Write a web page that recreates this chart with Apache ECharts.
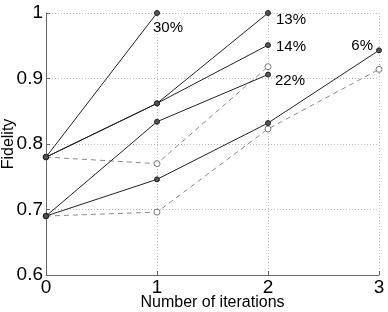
<!DOCTYPE html>
<html>
<head>
<meta charset="utf-8">
<script src="https://cdn.jsdelivr.net/npm/echarts@6/dist/echarts.min.js"></script>
<style>
html,body{margin:0;padding:0;background:#fff;}
#chart{width:388px;height:312px;}
</style>
</head>
<body>
<div id="chart"></div>
<script>
// ---- data ----
const iterations = [0, 1, 2, 3];
const xTickLabels = ['0', '1', '2', '3'];
const yTickLabels = ['0.6', '0.7', '0.8', '0.9', '1'];
const seriesNames = ['30%', '13%', '14%', '22%', '6%'];
const fid30 = [0.780, 1.000];
const fid13 = [0.780, 0.862, 1.000];
const fid14 = [0.780, 0.862, 0.951];
const fid22 = [0.690, 0.834, 0.906];
const fid6  = [0.690, 0.746, 0.832, 0.943];
const dashedUpper = [0.780, 0.770, 0.918];
const dashedLower = [0.690, 0.696, 0.823, 0.914];

// ---- styling / layout ----
const FONT = '"Liberation Sans", Arial, Helvetica, sans-serif';
const labelPlacement = [
  {position: 'right', offset: [-7, 15]},
  {position: 'right', offset: [5, 7]},
  {position: 'right', offset: [5, 2]},
  {position: 'right', offset: [4, 6]},
  {position: 'left',  offset: [-3, -4]}
];
const solidValues = [fid30, fid13, fid14, fid22, fid6];

function pairs(vals) { return vals.map((v, i) => [iterations[i], v]); }

const series = [];
[dashedUpper, dashedLower].forEach((vals, k) => {
  series.push({
    name: 'dashed' + k,
    type: 'line',
    data: pairs(vals),
    symbol: 'circle',
    symbolSize: 6,
    showSymbol: true,
    lineStyle: {color: '#8a8a8a', width: 1, type: [5, 4]},
    itemStyle: {color: '#ffffff', borderColor: '#777', borderWidth: 1},
    z: 2,
    silent: true
  });
});
solidValues.forEach((vals, k) => {
  const d = pairs(vals).map((p, i) => {
    if (i === vals.length - 1) {
      return {
        value: p,
        label: {
          show: true,
          formatter: seriesNames[k],
          position: labelPlacement[k].position,
          offset: labelPlacement[k].offset,
          distance: 0,
          fontSize: 15,
          fontFamily: FONT,
          color: '#000'
        }
      };
    }
    return {value: p};
  });
  series.push({
    name: seriesNames[k],
    type: 'line',
    data: d,
    symbol: 'circle',
    symbolSize: 5,
    showSymbol: true,
    lineStyle: {color: '#222', width: 1},
    itemStyle: {color: '#555', borderColor: '#222', borderWidth: 1},
    z: 3,
    silent: true
  });
});

const chart = echarts.init(document.getElementById('chart'), null, {renderer: 'canvas'});
chart.setOption({
  animation: false,
  backgroundColor: '#fff',
  grid: {left: 46, right: 9, top: 13, bottom: 37, containLabel: false, outerBoundsMode: 'none'},
  xAxis: {
    type: 'value',
    min: iterations[0],
    max: iterations[iterations.length - 1],
    interval: 1,
    name: 'Number of iterations',
    nameLocation: 'middle',
    nameGap: 20,
    nameMoveOverlap: false,
    nameTextStyle: {fontSize: 16, fontFamily: FONT, color: '#000'},
    axisLine: {show: true, lineStyle: {color: '#666', width: 1}},
    axisTick: {show: true, inside: true, length: 4, lineStyle: {color: '#666'}},
    axisLabel: {
      fontSize: 19, fontFamily: FONT, color: '#000', margin: 3,
      formatter: (v) => xTickLabels[iterations.indexOf(v)] ?? ''
    },
    splitLine: {show: true, lineStyle: {color: '#bbb', type: [1, 2], width: 1}}
  },
  yAxis: {
    type: 'value',
    min: 0.6,
    max: 1.0,
    interval: 0.1,
    name: 'Fidelity',
    nameLocation: 'middle',
    nameGap: 29,
    nameMoveOverlap: false,
    nameTextStyle: {fontSize: 16, fontFamily: FONT, color: '#000'},
    axisLine: {show: true, lineStyle: {color: '#666', width: 1}},
    axisTick: {show: true, inside: true, length: 4, lineStyle: {color: '#666'}},
    axisLabel: {
      fontSize: 19, fontFamily: FONT, color: '#000', margin: 3,
      formatter: (v) => yTickLabels[Math.round((v - 0.6) * 10)] ?? ''
    },
    splitLine: {show: true, lineStyle: {color: '#bbb', type: [1, 2], width: 1}}
  },
  series: series
});
</script>
</body>
</html>
